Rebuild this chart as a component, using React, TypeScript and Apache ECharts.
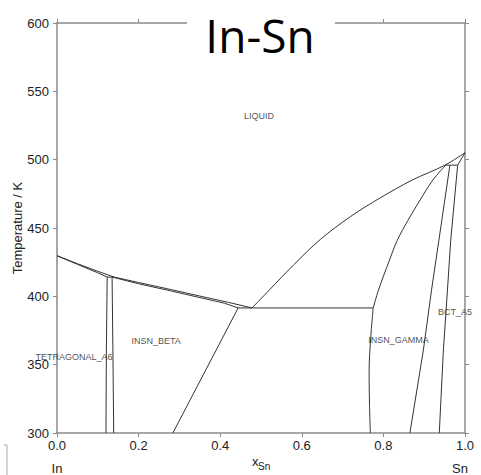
import React, { useEffect, useRef } from "react";
import * as echarts from "echarts";

type Pt = [number, number];

// Phase boundaries, [x_Sn, T / K]
const liquidusInSide: Pt[] = [[0, 429.7], [0.05, 423.9], [0.1, 418.3], [0.14, 414.1], [0.2, 410.1], [0.28, 404.9], [0.35, 400.2], [0.42, 395.6], [0.478, 391.5]];
const solidusA6: Pt[] = [[0, 429.7], [0.05, 423.4], [0.1, 417.2], [0.123, 414.1]];
const peritecticIn: Pt[] = [[0.123, 414.1], [0.14, 414.1]];
const solidusBeta: Pt[] = [[0.135, 414.1], [0.2, 409.2], [0.28, 403.9], [0.35, 399.1], [0.41, 395.0], [0.444, 391.5]];
const solvusA6: Pt[] = [[0.123, 414.1], [0.121, 360], [0.12, 300]];
const solvusBetaLeft: Pt[] = [[0.135, 414.1], [0.137, 360], [0.139, 300]];
const solvusBetaRight: Pt[] = [[0.444, 391.5], [0.284, 300]];
const eutecticLine: Pt[] = [[0.444, 391.5], [0.775, 391.5]];
const liquidusSnSide: Pt[] = [[0.478, 391.5], [0.52, 404.5], [0.58, 423], [0.645, 441.5], [0.72, 458.5], [0.792, 472], [0.87, 485], [0.951, 496], [1.0, 505.1]];
const peritecticSn: Pt[] = [[0.951, 496], [0.982, 496]];
const solidusSn: Pt[] = [[0.982, 496], [1.0, 505.1]];
const gammaUpper: Pt[] = [[0.953, 496], [0.921, 485], [0.89, 470.5], [0.86, 455.5], [0.834, 441], [0.815, 426.6], [0.788, 404.6], [0.775, 391.5]];
const gammaLower: Pt[] = [[0.775, 391.5], [0.769, 370], [0.765, 345], [0.766, 320], [0.768, 300]];
const gammaRight: Pt[] = [[0.963, 496], [0.936, 441], [0.918, 404.6], [0.898, 360.7], [0.865, 300]];
const solvusSn: Pt[] = [[0.982, 496], [0.965, 441], [0.957, 404.6], [0.947, 360.7], [0.937, 300]];

const straightBoundaries: Pt[][] = [
  liquidusInSide, solidusA6, peritecticIn, solidusBeta, solvusA6, solvusBetaLeft,
  solvusBetaRight, eutecticLine, peritecticSn, solidusSn, gammaRight, solvusSn,
];
const curvedBoundaries: Pt[][] = [liquidusSnSide, gammaUpper, gammaLower];

// Phase labels
const phaseLabelX = [0.495, 0.243, 0.0417, 0.837, 0.9755];
const phaseLabelT = [532, 367.3, 355.6, 368.3, 388.3];
const phaseLabelText = ["LIQUID", "INSN_BETA", "TETRAGONAL_A6", "INSN_GAMMA", "BCT_A5"];

const xTicks = { min: 0, max: 1, interval: 0.2 };
const yTicks = { min: 300, max: 600, interval: 50 };

const AXIS_COLOR = "#8a8a8a";
const TEXT_COLOR = "#222";
const LINE_COLOR = "#333";
const FONT = "'Liberation Sans', Arial, sans-serif";

export default function App() {
  const ref = useRef<HTMLDivElement>(null);

  useEffect(() => {
    if (!ref.current) return;
    const chart = echarts.init(ref.current, undefined, { renderer: "svg" });

    const axisCommon = {
      type: "value" as const,
      axisLine: { show: true, onZero: false, lineStyle: { color: AXIS_COLOR, width: 1.5 } },
      axisTick: { show: true, length: 4, lineStyle: { color: AXIS_COLOR, width: 1 } },
      splitLine: { show: false },
    };

    const mkLine = (d: Pt[], smooth: number | boolean) => ({
      type: "line" as const,
      data: d,
      showSymbol: false,
      symbol: "none",
      smooth,
      lineStyle: { color: LINE_COLOR, width: 1 },
      silent: true,
      z: 3,
    });

    const labelData = phaseLabelText.map((t, i) => [phaseLabelX[i], phaseLabelT[i], t]);

    chart.setOption({
      animation: false,
      backgroundColor: "#fff",
      grid: { left: 57, right: 16, top: 23, bottom: 42 },
      xAxis: [
        {
          ...axisCommon,
          ...xTicks,
          position: "bottom",
          axisLabel: {
            color: TEXT_COLOR,
            fontSize: 13,
            fontFamily: FONT,
            margin: 6,
            formatter: (v: number) => v.toFixed(1),
          },
        },
        { ...axisCommon, ...xTicks, position: "top", axisLabel: { show: false } },
      ],
      yAxis: [
        {
          ...axisCommon,
          ...yTicks,
          position: "left",
          axisLabel: { color: TEXT_COLOR, fontSize: 13, fontFamily: FONT, margin: 8 },
        },
        { ...axisCommon, ...yTicks, position: "right", axisLabel: { show: false } },
      ],
      series: [
        ...straightBoundaries.map((d) => mkLine(d, false)),
        ...curvedBoundaries.map((d) => mkLine(d, 0.35)),
        {
          type: "scatter",
          data: labelData,
          symbolSize: 0,
          silent: true,
          itemStyle: { color: "transparent" },
          label: {
            show: true,
            position: "inside",
            formatter: (p: any) => p.data[2],
            color: TEXT_COLOR,
            fontSize: 9,
            fontFamily: FONT,
          },
          z: 4,
        },
      ],
      graphic: [
        { type: "rect", z: 100, shape: { x: 187, y: 10, width: 148, height: 20 }, style: { fill: "#fff" } },
        {
          type: "text", z: 101, x: 260, y: 35,
          style: { text: "In-Sn", fill: "#000", font: "46px 'Open Sans', sans-serif", align: "center", verticalAlign: "middle" },
        },
        {
          type: "text", z: 101, x: 17, y: 228, rotation: Math.PI / 2,
          style: { text: "Temperature / K", fill: TEXT_COLOR, font: `13px ${FONT}`, align: "center", verticalAlign: "middle" },
        },
        {
          type: "text", z: 101, x: 252, y: 461,
          style: { text: "x", fill: TEXT_COLOR, font: `13px ${FONT}`, align: "left", verticalAlign: "middle" },
        },
        {
          type: "text", z: 101, x: 258, y: 466.5,
          style: { text: "Sn", fill: TEXT_COLOR, font: `10px ${FONT}`, align: "left", verticalAlign: "middle" },
        },
        {
          type: "text", z: 101, x: 57, y: 468.5,
          style: { text: "In", fill: TEXT_COLOR, font: `13px ${FONT}`, align: "center", verticalAlign: "middle" },
        },
        {
          type: "text", z: 101, x: 460, y: 468.5,
          style: { text: "Sn", fill: TEXT_COLOR, font: `13px ${FONT}`, align: "center", verticalAlign: "middle" },
        },
        {
          type: "polyline", z: 101,
          shape: { points: [[4, 445], [7, 445], [7, 476]] },
          style: { stroke: "#aaa", fill: "none", lineWidth: 1 },
        },
      ],
    });

    return () => chart.dispose();
  }, []);

  return (
    <div
      ref={ref}
      style={{ position: "fixed", left: 0, top: 0, width: 481, height: 475, background: "#fff" }}
    />
  );
}
